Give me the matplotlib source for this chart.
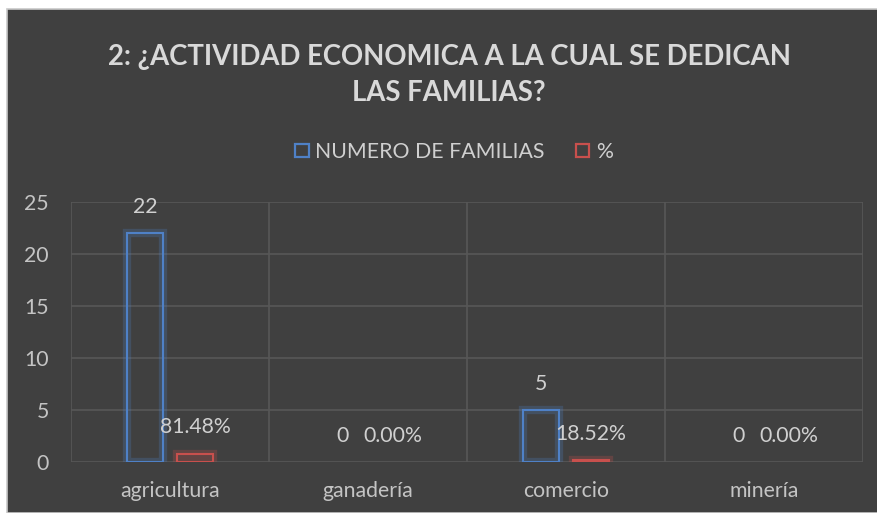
import matplotlib
matplotlib.use("Agg")
import matplotlib.pyplot as plt
import matplotlib.patheffects as pe
from matplotlib.patches import Rectangle, Patch
import numpy as np

categories = ["agricultura", "ganadería", "comercio", "minería"]
familias = [22, 0, 5, 0]
porcentaje = [0.8148, 0.0, 0.1852, 0.0]
familias_labels = ["22", "0", "5", "0"]
porcentaje_labels = ["81.48%", "0.00%", "18.52%", "0.00%"]
series_names = ["NUMERO DE FAMILIAS", "%"]
yticks = [0, 5, 10, 15, 20, 25]
title = "2: ¿ACTIVIDAD ECONOMICA A LA CUAL SE DEDICAN\nLAS FAMILIAS?"

BG = "#404040"
GRID = "#575757"
TXT = "#d0d0d0"
TICK = "#c4c4c4"
BLUE = "#4f81c7"
RED = "#c8504d"
FONT = "Lato"
FS = 15.3

W, H = 877, 513
fig = plt.figure(figsize=(W / 100, H / 100), dpi=100, facecolor="white")
fig.patches.append(Rectangle((7 / W, 0), 1, 1 - 9 / H, transform=fig.transFigure,
                             facecolor=BG, edgecolor="#c8c8c8", linewidth=1.2, zorder=-5))

ax = fig.add_axes([71 / W, (H - 462) / H, (863 - 71) / W, (462 - 202) / H])
ax.set_zorder(2)
ax.patch.set_alpha(0)

x = np.arange(len(categories))
bw = 0.18
off = 0.126
glow_b = [pe.Stroke(linewidth=6, foreground=BLUE, alpha=0.25), pe.Normal()]
glow_r = [pe.Stroke(linewidth=6, foreground=RED, alpha=0.25), pe.Normal()]
b1 = ax.bar(x - off, familias, bw, facecolor="none", edgecolor=BLUE, linewidth=1.5, zorder=3)
b2 = ax.bar(x + off, porcentaje, bw, facecolor="none", edgecolor=RED, linewidth=1.5, zorder=3)
for b, v in zip(b1, familias):
    if v > 0:
        b.set_path_effects(glow_b)
    else:
        b.set_visible(False)
for b, v in zip(b2, porcentaje):
    if v > 0:
        b.set_path_effects(glow_r)
    else:
        b.set_visible(False)

for xi, v, s in zip(x - off, familias, familias_labels):
    ax.annotate(s, (xi, v), xytext=(0, 19), textcoords="offset points", ha="center",
                va="center", color=TXT, fontsize=FS, family=FONT, zorder=5)
for xi, v, s in zip(x + off, porcentaje, porcentaje_labels):
    ax.annotate(s, (xi, v), xytext=(0, 19), textcoords="offset points", ha="center",
                va="center", color=TXT, fontsize=FS, family=FONT, zorder=5)

ax.set_xlim(-0.5, len(categories) - 0.5)
ax.set_ylim(0, 25)
ax.set_yticks(yticks)
ax.set_yticklabels([str(t) for t in yticks], fontsize=FS, color=TICK, family=FONT)
ax.set_xticks(x)
ax.set_xticklabels(categories, fontsize=FS, color=TICK, family=FONT)
ax.tick_params(axis="both", length=0)
ax.tick_params(axis="y", pad=16)
ax.tick_params(axis="x", pad=14)
for t in yticks:
    ax.axhline(t, color=GRID, linewidth=1.2, zorder=1)
for b in np.arange(-0.5, len(categories), 1.0):
    ax.axvline(b, color=GRID, linewidth=1.2, zorder=1)
for s in ax.spines.values():
    s.set_visible(False)

fig.text(449 / W, 1 - 75 / H, title, ha="center", va="center", fontsize=19.8,
         fontweight="bold", color="#d9d9d9", family=FONT, linespacing=1.45)

handles = [Patch(facecolor="none", edgecolor=BLUE, linewidth=1.6),
           Patch(facecolor="none", edgecolor=RED, linewidth=1.6)]
leg = fig.legend(handles, series_names, loc="center", bbox_to_anchor=(454 / W, 1 - 152 / H),
                 ncol=2, frameon=False, handlelength=0.62, handleheight=0.62,
                 handletextpad=0.3, columnspacing=1.5, prop={"family": FONT, "size": FS})
for t in leg.get_texts():
    t.set_color(TXT)

fig.savefig("out.png", dpi=100, facecolor="white")
